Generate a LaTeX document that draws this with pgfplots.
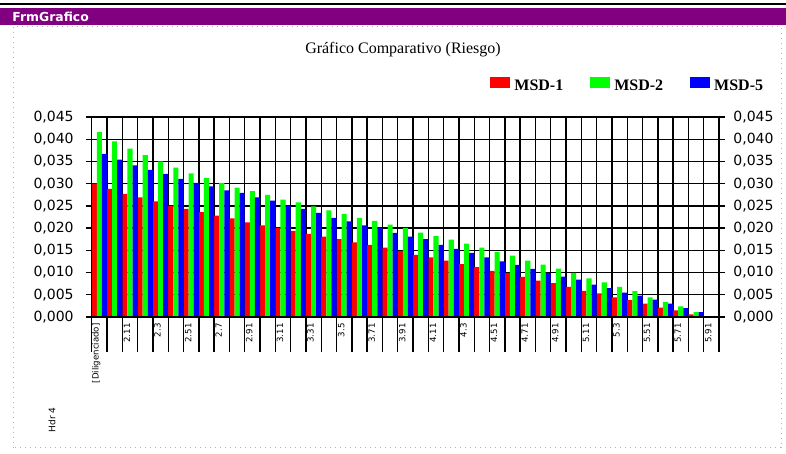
\documentclass[border=0pt]{standalone}
\usepackage{fontspec}
\setmainfont{Liberation Serif}
\newfontfamily\dejavu{DejaVu Sans}
\usepackage{pgfplots}
\usepackage{pgfplotstable}
\pgfplotsset{compat=1.18}

\definecolor{frmpurple}{RGB}{128,0,128}

% riesgo por categoria: MSD-1 (r), MSD-2 (g), MSD-5 (b)
\pgfplotstableread{
x r g b
1 0.0300 0.0416 0.0367
2 0.0288 0.0395 0.0354
3 0.0277 0.0379 0.0341
4 0.0269 0.0364 0.0331
5 0.0260 0.0350 0.0322
6 0.0250 0.0336 0.0311
7 0.0243 0.0323 0.0302
8 0.0236 0.0313 0.0294
9 0.0228 0.0302 0.0285
10 0.0222 0.0291 0.0279
11 0.0213 0.0283 0.0269
12 0.0206 0.0275 0.0262
13 0.0200 0.0264 0.0250
14 0.0194 0.0258 0.0243
15 0.0187 0.0249 0.0234
16 0.0181 0.0240 0.0223
17 0.0175 0.0232 0.0215
18 0.0168 0.0223 0.0206
19 0.0162 0.0216 0.0200
20 0.0156 0.0208 0.0189
21 0.0148 0.0200 0.0181
22 0.0140 0.0190 0.0175
23 0.0134 0.0182 0.0162
24 0.0127 0.0174 0.0153
25 0.0119 0.0165 0.0144
26 0.0112 0.0156 0.0134
27 0.0104 0.0146 0.0125
28 0.0099 0.0138 0.0117
29 0.0090 0.0127 0.0108
30 0.0082 0.0118 0.0099
31 0.0076 0.0109 0.0091
32 0.0068 0.0099 0.0084
33 0.0059 0.0087 0.0073
34 0.0053 0.0078 0.0065
35 0.0044 0.0068 0.0055
36 0.0038 0.0058 0.0048
37 0.0030 0.0044 0.0039
38 0.0021 0.0034 0.0030
39 0.0015 0.0024 0.0020
40 0.0006 0.0011 0.0011
}\riesgo

\pgfplotsset{
  panel/.style={
    scale only axis, width=313.65pt, height=100pt,
    at={(45.85pt,68.5pt)}, anchor=south west,
    xmin=0.5, xmax=41.5, ymin=0, ymax=0.045,
    ytick={0,0.005,0.01,0.015,0.02,0.025,0.03,0.035,0.04,0.045},
    scaled y ticks=false,
    axis line style={black, line width=0.7pt},
    yticklabel style={font=\dejavu\fontsize{7}{8}\selectfont, inner sep=0pt,
      /pgf/number format/fixed, /pgf/number format/fixed zerofill,
      /pgf/number format/precision=3, /pgf/number format/use comma,
      /pgf/number format/assume math mode=true},
  },
  msd/.style={ybar, bar width=0.3333, draw=none, fill=#1,
    legend image code/.code={\fill[#1] (0pt,-0.3pt) rectangle (10pt,5.2pt);}},
}

\begin{document}
\begin{tikzpicture}
\useasboundingbox (0,0) rectangle (393pt,227pt);

% ventana
\fill[black] (0,224.5pt) rectangle (393pt,225.5pt);
\fill[frmpurple] (0,214.5pt) rectangle (393pt,223pt);
\node[anchor=west, text=white, font=\dejavu\bfseries\fontsize{6.2}{7}\selectfont, inner sep=0pt]
  at (6pt,218.75pt) {FrmGrafico};
\draw[gray!60, dotted, line width=0.5pt] (6.5pt,3pt) rectangle (390.5pt,213.5pt);

\node[font=\fontsize{8}{9.6}\selectfont] at (201.5pt,202pt) {Gráfico Comparativo (Riesgo)};
\node[rotate=90, font=\dejavu\fontsize{4.5}{5}\selectfont] at (26pt,17pt) {Hdr 4};

% barras y rejilla
\begin{axis}[panel,
  ymajorgrids, xmajorgrids,
  grid style={black, line width=0.7pt},
  xtick={0.5,1.5,...,41.5}, xticklabels={}, xtick pos=left,
  tick align=outside, major tick length=17.5pt,
  xtick style={black, line width=0.7pt},
  ytick style={draw=none}, yticklabels={},
  legend columns=-1,
  legend style={at={(0.635,1.15)}, anchor=west, draw=none, fill=none,
    inner sep=0pt, font=\bfseries\fontsize{8}{9}\selectfont,
    /tikz/every even column/.append style={column sep=11.5pt}},
]
\addplot[msd=red, bar shift=-0.3333] table[x=x, y=r] {\riesgo};
\addplot[msd=green, bar shift=0] table[x=x, y=g] {\riesgo};
\addplot[msd=blue, bar shift=0.3333] table[x=x, y=b] {\riesgo};
\legend{MSD-1, MSD-2, MSD-5}
\end{axis}

% etiquetas x y eje derecho
\begin{axis}[panel,
  xtick={1,3,...,41},
  xticklabels={{[Diligenciado]},2.11,2.3,2.51,2.7,2.91,3.11,3.31,3.5,3.71,3.91,
    4.11,4.3,4.51,4.71,4.91,5.11,5.3,5.51,5.71,5.91},
  xtick style={draw=none},
  xticklabel style={font=\dejavu\fontsize{4.3}{5}\selectfont, rotate=90,
    anchor=east, inner sep=0pt, yshift=1.5pt},
  tick align=outside, major tick length=3pt,
  ytick pos=both, yticklabel pos=right,
  yticklabel style={anchor=west, xshift=4pt},
  ytick style={black, line width=0.7pt},
]
\end{axis}

% eje izquierdo
\begin{axis}[panel,
  xtick=\empty, tick align=inside,
  ytick style={draw=none},
  yticklabel pos=left,
  yticklabel style={anchor=east, xshift=-8.85pt},
]
\end{axis}
\end{tikzpicture}
\end{document}
